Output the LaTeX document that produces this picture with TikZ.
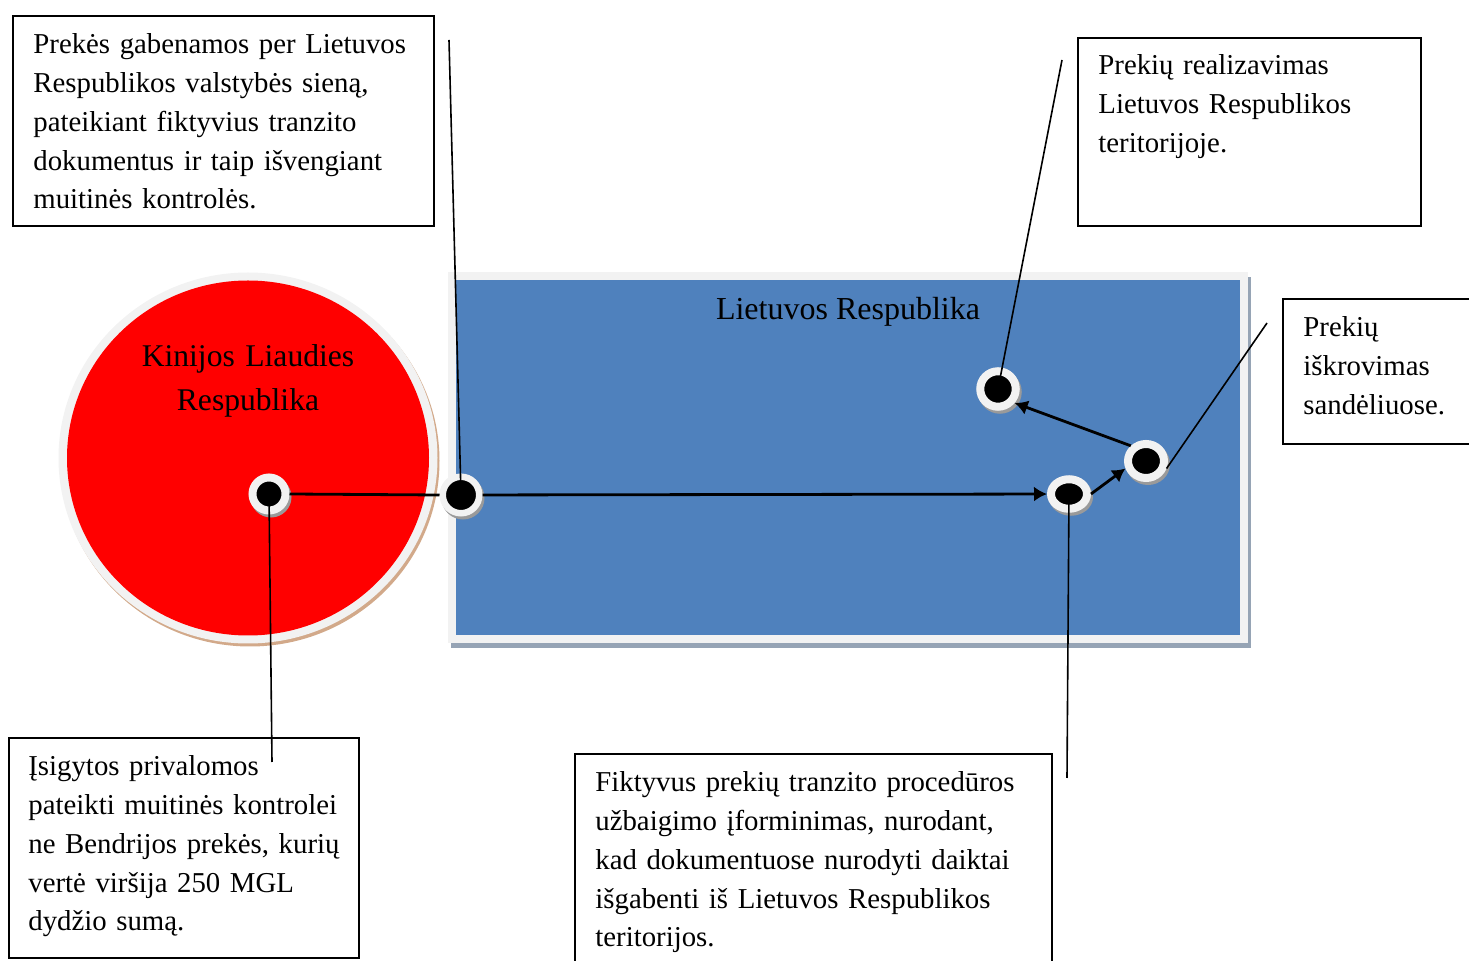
\documentclass[tikz,border=0pt]{standalone}
\usepackage{fontspec}
\setmainfont{Liberation Serif}
\usepackage{xcolor}
\usetikzlibrary{shapes.geometric,arrows.meta}
\definecolor{ltblue}{HTML}{4F81BD}
\definecolor{ringgray}{HTML}{F2F2F2}
\definecolor{tanshadow}{HTML}{D2A98A}
\definecolor{rectshadow}{HTML}{96A4B5}
\definecolor{dotshadow}{HTML}{9A9A9A}
\tikzset{
  >={Latex[length=6.5pt,width=7.5pt]},
  box/.style={draw, line width=.8pt, inner sep=0pt, anchor=north west},
  txt/.style={align=left, text width=250pt, inner sep=0pt, anchor=base west},
  hub/.style={ellipse, draw=ringgray, fill=black, line width=4pt, inner sep=0pt,
    preaction={draw=dotshadow, fill=dotshadow, transform canvas={shift={(1pt,-1.5pt)}}}},
  pointer/.style={line width=.8pt},
}
\tikzstyle{every node}=[font=\fontsize{14.4}{19.35}\selectfont]

\begin{document}
\begin{tikzpicture}[x=.5pt,y=-.5pt]
    \useasboundingbox (0,0) rectangle (1469,961);
    \fill[tanshadow] (250,461) ellipse[x radius=94.75pt,y radius=92.75pt];
    \fill[ringgray] (248,458) ellipse[x radius=94.75pt,y radius=92.75pt];
    \fill[red] (248,458) ellipse[x radius=90.5pt,y radius=88.75pt];
    \fill[rectshadow] (451,277) rectangle (1251,648);
    \fill[ringgray] (448,272) rectangle (1248,643);
    \fill[ltblue] (456,280) rectangle (1240,635);
    \node[anchor=base, font=\fontsize{16}{22}\selectfont] (lt) at (848,320) {Lietuvos Respublika};
    \node[anchor=base, text width=150pt, align=center, font=\fontsize{15.8}{22}\selectfont]
      (cn) at (248,367) {Kinijos Liaudies\\Respublika};
    \node[hub, line width=3.25pt, minimum width=18.25pt, minimum height=18.25pt] (B) at (461,495) {};
    \node[hub, minimum width=16.5pt, minimum height=16.5pt] (A) at (269,494) {};
    \node[hub, minimum width=18pt, minimum height=14.75pt] (C) at (1069,494) {};
    \node[hub, minimum width=18pt, minimum height=17pt] (D) at (1146,461) {};
    \node[hub, minimum width=17.75pt, minimum height=17.75pt] (E) at (998,389) {};
    \draw[line width=1.4pt] (A.east) -- (B.west);
    \begin{scope}[line width=1.4pt,->]
      \draw (B) -- (C);
      \draw (C.east) -- (D.200);
      \draw (D.135) -- (E.-40);
    \end{scope}
    \node[box, minimum width=210.5pt, minimum height=105pt] (box1) at (12,15) {};
    \node[box, minimum width=171.5pt, minimum height=94pt] (box2) at (1077,37) {};
    \node[box, minimum width=100pt, minimum height=72.5pt] (box3) at (1282,298) {};
    \node[box, minimum width=238.5pt, minimum height=120pt] (box4) at (574,753) {};
    \node[box, minimum width=175pt, minimum height=110pt] (box5) at (8,737) {};
    \node[txt] (t1) at ([xshift=10.5pt,yshift=-19.5pt]box1.north west)
      {Prekės gabenamos per Lietuvos\\Respublikos valstybės sieną,\\pateikiant fiktyvius tranzito\\dokumentus ir taip išvengiant\\muitinės kontrolės.};
    \node[txt] (t2) at ([xshift=10.5pt,yshift=-19pt]box2.north west)
      {Prekių realizavimas\\Lietuvos Respublikos\\teritorijoje.};
    \node[txt] (t3) at ([xshift=10.5pt,yshift=-19.5pt]box3.north west)
      {Prekių\\iškrovimas\\sandėliuose.};
    \node[txt] (t4) at ([xshift=10.5pt,yshift=-19.5pt]box4.north west)
      {Fiktyvus prekių tranzito procedūros\\užbaigimo įforminimas, nurodant,\\kad dokumentuose nurodyti daiktai\\išgabenti iš Lietuvos Respublikos\\teritorijos.};
    \node[txt] (t5) at ([xshift=10pt,yshift=-19.5pt]box5.north west)
      {Įsigytos privalomos\\pateikti muitinės kontrolei\\ne Bendrijos prekės, kurių\\vertė viršija 250 MGL\\dydžio sumą.};
    \coordinate (p1) at (449,40);
    \coordinate (p2) at (1062,60);
    \coordinate (p3) at (1267,323);
    \coordinate (p4) at (1067,778);
    \coordinate (p5) at (272,762);
    \draw[pointer] (p1) -- (B.center);
    \draw[pointer] (p2) -- (E.center);
    \draw[pointer] (p3) -- (D.-20);
    \draw[pointer] (p4) -- (C.center);
    \draw[pointer] (p5) -- (A.center);
  \end{tikzpicture}
\end{document}
